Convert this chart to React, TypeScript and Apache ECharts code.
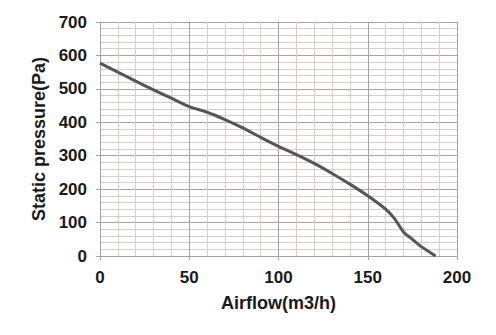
import React, { useEffect, useRef } from "react";
import * as echarts from "echarts";

const airflow = [0, 10, 20, 30, 40, 50, 60, 70, 80, 90, 100, 110, 120, 130, 140, 150, 160, 165, 170, 175, 180, 188];
const pressure = [577, 550, 523, 497, 472, 447, 430, 408, 383, 355, 328, 303, 277, 247, 215, 180, 140, 112, 72, 50, 28, 0];

const xTitle = "Airflow(m3/h)";
const yTitle = "Static pressure(Pa)";

export default function App() {
  const ref = useRef<HTMLDivElement>(null);
  useEffect(() => {
    if (!ref.current) return;
    const chart = echarts.init(ref.current, null, { renderer: "svg" });
    const font = { fontFamily: "Liberation Sans, Arial, sans-serif", fontWeight: "bold", color: "#1a1a1a" };
    chart.setOption({
      animation: false,
      backgroundColor: "#fff",
      grid: { left: 100, right: 39, top: 22, bottom: 79 },
      xAxis: {
        type: "value",
        min: 0,
        max: 200,
        interval: 50,
        name: xTitle,
        nameLocation: "middle",
        nameGap: 38,
        nameTextStyle: { ...font, fontSize: 18 },
        axisLine: { show: true, lineStyle: { color: "#a9a0a0", width: 1 } },
        axisTick: { show: true, length: 4, lineStyle: { color: "#a9a0a0" } },
        axisLabel: { ...font, fontSize: 17, margin: 13 },
        splitLine: { show: true, lineStyle: { color: "#aaa2a2", width: 1 } },
        minorTick: { show: false, splitNumber: 5 },
        minorSplitLine: { show: true, lineStyle: { color: "#d8cccc", width: 1 } },
      },
      yAxis: {
        type: "value",
        min: 0,
        max: 700,
        interval: 100,
        name: yTitle,
        nameLocation: "middle",
        nameGap: 48,
        nameRotate: 90,
        nameTextStyle: { ...font, fontSize: 18 },
        axisLine: { show: true, lineStyle: { color: "#a9a0a0", width: 1 } },
        axisTick: { show: true, length: 4, lineStyle: { color: "#a9a0a0" } },
        axisLabel: { ...font, fontSize: 17, margin: 13 },
        splitLine: { show: true, lineStyle: { color: "#aaa2a2", width: 1 } },
        minorTick: { show: false, splitNumber: 5 },
        minorSplitLine: { show: true, lineStyle: { color: "#d8cccc", width: 1 } },
      },
      series: [
        {
          type: "line",
          data: airflow.map((x, i) => [x, pressure[i]]),
          showSymbol: false,
          smooth: 0.2,
          lineStyle: { color: "#555", width: 3 },
        },
      ],
    });
    return () => chart.dispose();
  }, []);
  return <div ref={ref} style={{ width: 496, height: 335, position: "absolute", left: 0, top: 0 }} />;
}
